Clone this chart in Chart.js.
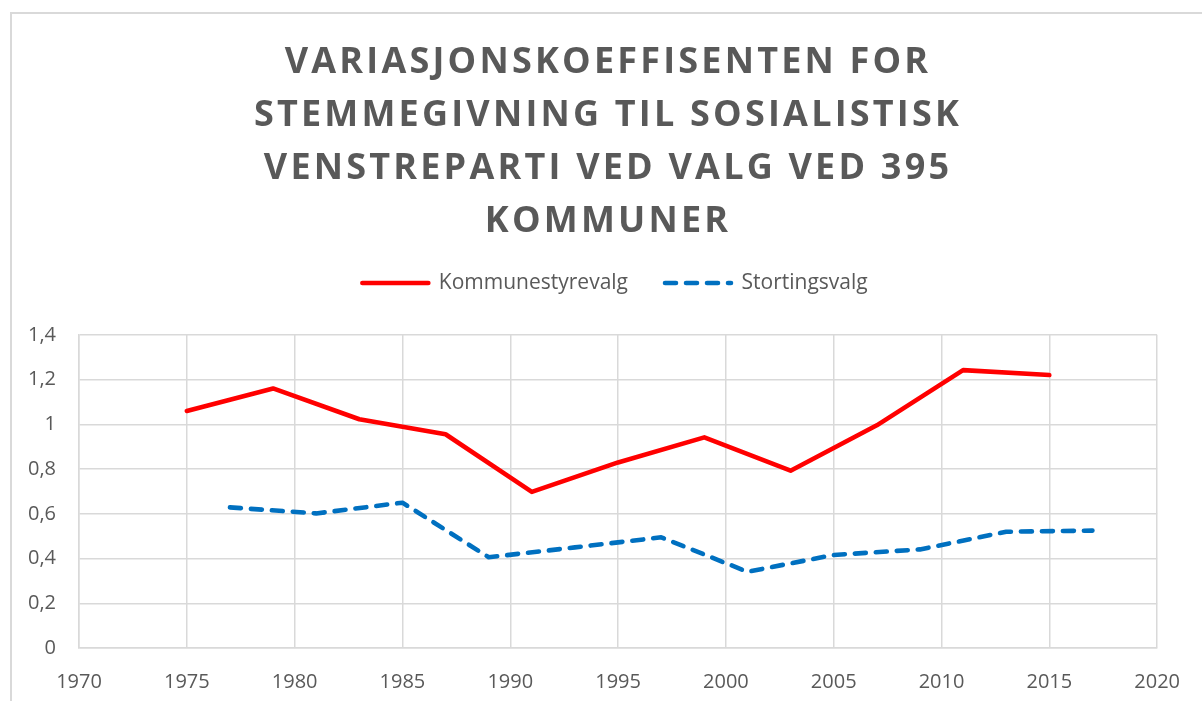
<!DOCTYPE html>
<html>
<head>
<meta charset="utf-8">
<script src="https://cdn.jsdelivr.net/npm/chart.js@4.4.1/dist/chart.umd.min.js"></script>
<style>
    html, body { margin: 0; padding: 0; background: #fff; }
    #wrap { position: relative; width: 1202px; height: 701px; overflow: hidden; }
    #frame {
        position: absolute; left: 10px; top: 12px; width: 1300px; height: 800px;
        border-left: 2px solid #d9d9d9; border-top: 2px solid #d9d9d9;
        pointer-events: none;
    }
    canvas { position: absolute; left: 0; top: 0; }
</style>
</head>
<body>
<div id="wrap">
    <canvas id="line-chart" width="1202" height="701"></canvas>
    <div id="frame"></div>
</div>
<script>
// election years and values
var kommuneYears = [1975, 1979, 1983, 1987, 1991, 1995, 1999, 2003, 2007, 2011, 2015];
var kommuneValues = [1.06, 1.161, 1.023, 0.956, 0.698, 0.83, 0.942, 0.793, 0.996, 1.243, 1.221];

var stortingYears = [1977, 1981, 1985, 1989, 1993, 1997, 2001, 2005, 2009, 2013, 2017];
var stortingValues = [0.629, 0.602, 0.65, 0.406, 0.45, 0.495, 0.341, 0.416, 0.441, 0.52, 0.525];

var titleLines = [
    "VARIASJONSKOEFFISENTEN FOR",
    "STEMMEGIVNING TIL SOSIALISTISK",
    "VENSTREPARTI VED VALG VED 395",
    "KOMMUNER",
];

function toPoints(xs, ys) {
    return xs.map(function (x, i) {
        return { x: x, y: ys[i] };
    });
}

var textColor = "#595959";
var gridColor = "#d9d9d9";

// spaced-out title letters, legend nudged right, some extra room under the legend
var tweaks = {
    id: "tweaks",
    beforeUpdate: function (chart) {
        var tb = chart.titleBlock;
        if (tb && !tb._spaced) {
            var origDraw = tb.draw.bind(tb);
            tb.draw = function (area) {
                chart.ctx.save();
                chart.ctx.letterSpacing = "3.2px";
                origDraw(area);
                chart.ctx.restore();
            };
            tb._spaced = true;
        }
        var lg = chart.legend;
        if (lg && !lg._padded) {
            var origFit = lg.fit.bind(lg);
            lg.fit = function () {
                origFit();
                this.height += 31.5;
            };
            var origLegendDraw = lg.draw.bind(lg);
            lg.draw = function () {
                chart.ctx.save();
                chart.ctx.translate(7, 0);
                origLegendDraw();
                chart.ctx.restore();
            };
            lg._padded = true;
        }
    },
};

var ctx = document.getElementById("line-chart");

var data = {
    datasets: [
        {
            label: "Kommunestyrevalg",
            data: toPoints(kommuneYears, kommuneValues),
            borderColor: "#ff0000",
            backgroundColor: "#ff0000",
            borderWidth: 4.6,
            borderCapStyle: "round",
            borderJoinStyle: "round",
            pointRadius: 0,
            tension: 0,
        },
        {
            label: "Stortingsvalg",
            data: toPoints(stortingYears, stortingValues),
            borderColor: "#0070c0",
            backgroundColor: "#0070c0",
            borderWidth: 4.6,
            borderDash: [11, 10],
            borderCapStyle: "round",
            borderJoinStyle: "round",
            pointRadius: 0,
            tension: 0,
        },
    ],
};

var options = {
    responsive: false,
    animation: false,
    layout: {
        padding: { left: 14, right: 0, top: 12, bottom: 0 },
    },
    plugins: {
        title: {
            display: true,
            text: titleLines,
            color: textColor,
            font: { family: "Open Sans", size: 36, weight: "bold", lineHeight: 53 / 36 },
            padding: { top: 24.5, bottom: -13 },
        },
        legend: {
            display: true,
            position: "top",
            labels: {
                color: textColor,
                font: { family: "Open Sans", size: 21 },
                usePointStyle: true,
                pointStyle: "line",
                pointStyleWidth: 66,
                boxHeight: 21,
                padding: 37,
                generateLabels: function (chart) {
                    var items = Chart.defaults.plugins.legend.labels.generateLabels(chart);
                    items.forEach(function (item) {
                        var ds = chart.data.datasets[item.datasetIndex];
                        item.lineDash = ds.borderDash || [];
                        item.lineCap = "round";
                        item.lineWidth = ds.borderWidth;
                    });
                    return items;
                },
            },
        },
        tooltip: { enabled: false },
    },
    scales: {
        x: {
            type: "linear",
            min: 1970,
            max: 2020,
            afterFit: function (scale) {
                scale.height = 53;
            },
            ticks: {
                stepSize: 5,
                color: textColor,
                font: { family: "Open Sans", size: 20 },
                padding: 22,
                maxRotation: 0,
                callback: function (v) {
                    return String(v);
                },
            },
            grid: { color: gridColor, lineWidth: 1.5, drawTicks: false },
            border: { color: gridColor, width: 1.5 },
        },
        y: {
            min: 0,
            max: 1.4,
            afterFit: function (scale) {
                scale.width = 65;
            },
            ticks: {
                stepSize: 0.2,
                color: textColor,
                font: { family: "Open Sans", size: 20 },
                padding: 23,
                callback: function (v) {
                    return String(Number(v.toFixed(1))).replace(".", ",");
                },
            },
            grid: { color: gridColor, lineWidth: 1.5, drawTicks: false },
            border: { color: gridColor, width: 1.5 },
        },
        // empty axis on the right, only to keep the plot away from the edge
        spacer: {
            type: "linear",
            position: "right",
            afterFit: function (scale) {
                scale.width = 42;
            },
            ticks: { display: false },
            grid: { display: false, drawTicks: false },
            border: { display: false },
        },
    },
};

var chart1 = new Chart(ctx, {
    type: "line",
    data: data,
    options: options,
    plugins: [tweaks],
});
</script>
</body>
</html>
